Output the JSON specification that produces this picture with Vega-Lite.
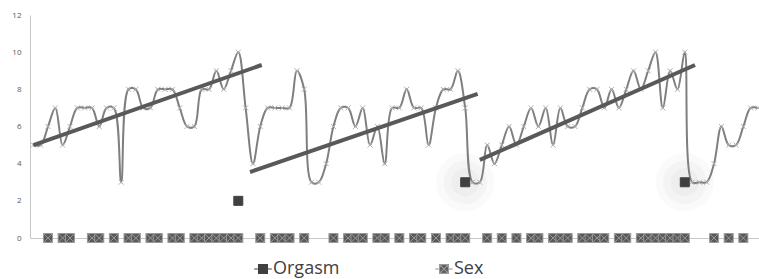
{
  "$schema": "https://vega.github.io/schema/vega-lite/v6.json",
  "width": 729,
  "height": 223,
  "autosize": "none",
  "padding": {"left": 30, "top": 15, "right": 0, "bottom": 41},
  "background": "white",
  "datasets": {
    "days": [
      {"day":0,"Rating":5},{"day":1,"Rating":5},{"day":2,"Rating":6,"Sex":0},{"day":3,"Rating":7},
      {"day":4,"Rating":5,"Sex":0},{"day":5,"Rating":6,"Sex":0},{"day":6,"Rating":7},{"day":7,"Rating":7},
      {"day":8,"Rating":7,"Sex":0},{"day":9,"Rating":6,"Sex":0},{"day":10,"Rating":7},{"day":11,"Rating":7,"Sex":0},
      {"day":12,"Rating":3},{"day":13,"Rating":8,"Sex":0},{"day":14,"Rating":8,"Sex":0},{"day":15,"Rating":7},
      {"day":16,"Rating":7,"Sex":0},{"day":17,"Rating":8,"Sex":0},{"day":18,"Rating":8},{"day":19,"Rating":8,"Sex":0},
      {"day":20,"Rating":7,"Sex":0},{"day":21,"Rating":6},{"day":22,"Rating":6,"Sex":0},{"day":23,"Rating":8,"Sex":0},
      {"day":24,"Rating":8,"Sex":0},{"day":25,"Rating":9,"Sex":0},{"day":26,"Rating":8,"Sex":0},{"day":27,"Rating":9,"Sex":0},
      {"day":28,"Rating":10,"Sex":0,"Orgasm":2},{"day":29,"Rating":7},{"day":30,"Rating":4},{"day":31,"Rating":6,"Sex":0},
      {"day":32,"Rating":7},{"day":33,"Rating":7,"Sex":0},{"day":34,"Rating":7,"Sex":0},{"day":35,"Rating":7,"Sex":0},
      {"day":36,"Rating":9},{"day":37,"Rating":8,"Sex":0},{"day":38,"Rating":3},{"day":39,"Rating":3},
      {"day":40,"Rating":4},{"day":41,"Rating":6,"Sex":0},{"day":42,"Rating":7},{"day":43,"Rating":7,"Sex":0},
      {"day":44,"Rating":6,"Sex":0},{"day":45,"Rating":7,"Sex":0},{"day":46,"Rating":5},{"day":47,"Rating":6,"Sex":0},
      {"day":48,"Rating":4,"Sex":0},{"day":49,"Rating":7},{"day":50,"Rating":7,"Sex":0},{"day":51,"Rating":8},
      {"day":52,"Rating":7,"Sex":0},{"day":53,"Rating":7,"Sex":0},{"day":54,"Rating":5},{"day":55,"Rating":7,"Sex":0},
      {"day":56,"Rating":8},{"day":57,"Rating":8,"Sex":0},{"day":58,"Rating":9,"Sex":0},{"day":59,"Rating":7,"Sex":0,"Orgasm":3},
      {"day":60,"Rating":3},{"day":61,"Rating":3},{"day":62,"Rating":5,"Sex":0},{"day":63,"Rating":4},
      {"day":64,"Rating":5,"Sex":0},{"day":65,"Rating":6},{"day":66,"Rating":5,"Sex":0},{"day":67,"Rating":6},
      {"day":68,"Rating":7,"Sex":0},{"day":69,"Rating":6,"Sex":0},{"day":70,"Rating":7},{"day":71,"Rating":5,"Sex":0},
      {"day":72,"Rating":7,"Sex":0},{"day":73,"Rating":6,"Sex":0},{"day":74,"Rating":6},{"day":75,"Rating":7,"Sex":0},
      {"day":76,"Rating":8,"Sex":0},{"day":77,"Rating":8,"Sex":0},{"day":78,"Rating":7,"Sex":0},{"day":79,"Rating":8},
      {"day":80,"Rating":7,"Sex":0},{"day":81,"Rating":8,"Sex":0},{"day":82,"Rating":9},{"day":83,"Rating":8,"Sex":0},
      {"day":84,"Rating":9,"Sex":0},{"day":85,"Rating":10,"Sex":0},{"day":86,"Rating":7,"Sex":0},{"day":87,"Rating":9,"Sex":0},
      {"day":88,"Rating":8,"Sex":0},{"day":89,"Rating":10,"Sex":0,"Orgasm":3},{"day":90,"Rating":3},{"day":91,"Rating":3},
      {"day":92,"Rating":3},{"day":93,"Rating":4,"Sex":0},{"day":94,"Rating":6},{"day":95,"Rating":5,"Sex":0},
      {"day":96,"Rating":5},{"day":97,"Rating":6,"Sex":0},{"day":98,"Rating":7},{"day":99,"Rating":7}
    ],
    "trends": [
      {"start": 0, "end": 31.2, "from": 5.0, "to": 9.31},
      {"start": 29.6, "end": 60.7, "from": 3.55, "to": 7.75},
      {"start": 61.0, "end": 90.4, "from": 4.2, "to": 9.31}
    ]
  },
  "layer": [
    {
      "data": {"name": "days"},
      "transform": [{"filter": "datum.Orgasm >= 3"}],
      "mark": {"type": "point", "shape": "circle", "filled": true, "color": "#000000", "opacity": 0.018, "size": 3400},
      "encoding": {
        "x": {"field": "day", "type": "quantitative", "scale": {"domain": [-0.46, 99.14], "nice": false, "zero": false}, "axis": {"title": null}},
        "y": {"field": "Orgasm", "type": "quantitative", "scale": {"domain": [0, 12], "nice": false}, "axis": {"title": null}}
      }
    },
    {
      "data": {"name": "days"},
      "transform": [{"filter": "datum.Orgasm >= 3"}],
      "mark": {"type": "point", "shape": "circle", "filled": true, "color": "#000000", "opacity": 0.022, "size": 1900},
      "encoding": {
        "x": {"field": "day", "type": "quantitative", "axis": {"title": null}},
        "y": {"field": "Orgasm", "type": "quantitative", "axis": {"title": null}}
      }
    },
    {
      "data": {"name": "days"},
      "transform": [{"filter": "datum.Orgasm >= 3"}],
      "mark": {"type": "point", "shape": "circle", "filled": true, "color": "#000000", "opacity": 0.025, "size": 800},
      "encoding": {
        "x": {"field": "day", "type": "quantitative", "axis": {"title": null}},
        "y": {"field": "Orgasm", "type": "quantitative", "axis": {"title": null}}
      }
    },
    {
      "data": {"name": "days"},
      "transform": [{"filter": "isValid(datum.Sex)"}],
      "mark": {"type": "point", "shape": "M-1,-1H1V1H-1ZM-1,-1L1,1M1,-1L-1,1", "filled": true, "fill": "#595959", "stroke": "#9a9a9a", "strokeWidth": 1, "size": 81, "opacity": 1},
      "encoding": {
        "x": {"field": "day", "type": "quantitative", "axis": {"title": null}},
        "y": {"field": "Sex", "type": "quantitative", "axis": {"title": null}}
      }
    },
    {
      "data": {"name": "days"},
      "transform": [{"filter": "datum.day < 0"}],
      "mark": {"type": "point", "filled": true, "strokeWidth": 1, "size": 81, "opacity": 1},
      "encoding": {
        "x": {"field": "day", "type": "quantitative", "axis": {"title": null}},
        "y": {"field": "Sex", "type": "quantitative", "axis": {"title": null}},
        "fill": {
          "datum": "Sex",
          "scale": {"domain": ["Orgasm", "Sex"], "range": ["#404040", "#595959"]},
          "legend": {
            "title": null, "orient": "none", "legendX": 224, "legendY": 245,
            "direction": "horizontal", "columns": 2, "columnPadding": 92, "padding": 0,
            "labelFont": "Open Sans", "labelFontSize": 18, "labelColor": "#404040", "labelOffset": 1,
            "symbolSize": 78, "symbolStrokeWidth": 1.2
          }
        },
        "stroke": {
          "datum": "Sex",
          "scale": {"domain": ["Orgasm", "Sex"], "range": ["#404040", "#9a9a9a"]},
          "legend": {
            "title": null, "orient": "none", "legendX": 224, "legendY": 245,
            "direction": "horizontal", "columns": 2, "columnPadding": 92, "padding": 0,
            "labelFont": "Open Sans", "labelFontSize": 18, "labelColor": "#404040", "labelOffset": 1,
            "symbolSize": 78, "symbolStrokeWidth": 1.2
          }
        },
        "shape": {
          "datum": "Sex",
          "scale": {"domain": ["Orgasm", "Sex"], "range": ["M-2,0H-1M1,0H2M-1,-1H1V1H-1Z", "M-2,0H-1M1,0H2M-1,-1H1V1H-1ZM-1,-1L1,1M1,-1L-1,1"]},
          "legend": {
            "title": null, "orient": "none", "legendX": 224, "legendY": 245,
            "direction": "horizontal", "columns": 2, "columnPadding": 92, "padding": 0,
            "labelFont": "Open Sans", "labelFontSize": 18, "labelColor": "#404040", "labelOffset": 1,
            "symbolSize": 78, "symbolStrokeWidth": 1.2
          }
        }
      }
    },
    {
      "data": {"name": "days"},
      "mark": {"type": "line", "interpolate": "catmull-rom", "stroke": "#7f7f7f", "strokeWidth": 2},
      "encoding": {
        "x": {"field": "day", "type": "quantitative", "axis": {"title": null}},
        "y": {"field": "Rating", "type": "quantitative", "axis": {"title": null}}
      }
    },
    {
      "data": {"name": "days"},
      "mark": {"type": "point", "shape": "M-1,-1L1,1M1,-1L-1,1", "filled": false, "stroke": "#b0b0b0", "strokeWidth": 1, "size": 25, "opacity": 1},
      "encoding": {
        "x": {"field": "day", "type": "quantitative", "axis": {"title": null}},
        "y": {"field": "Rating", "type": "quantitative", "axis": {"title": null}}
      }
    },
    {
      "data": {"name": "trends"},
      "mark": {"type": "rule", "stroke": "#595959", "strokeWidth": 4, "strokeCap": "butt"},
      "encoding": {
        "x": {"field": "start", "type": "quantitative", "axis": {"title": null}},
        "x2": {"field": "end"},
        "y": {"field": "from", "type": "quantitative", "axis": {"title": null}},
        "y2": {"field": "to"}
      }
    },
    {
      "data": {"name": "days"},
      "transform": [{"filter": "isValid(datum.Orgasm)"}],
      "mark": {"type": "point", "shape": "M-1,-1H1V1H-1Z", "filled": true, "fill": "#404040", "stroke": "#404040", "strokeWidth": 1, "size": 81, "opacity": 1},
      "encoding": {
        "x": {"field": "day", "type": "quantitative", "axis": {"title": null}},
        "y": {"field": "Orgasm", "type": "quantitative", "axis": {"title": null}}
      }
    }
  ],
  "config": {
    "view": {"stroke": null},
    "axis": {"grid": false, "domainColor": "#c8c8c8", "domainWidth": 1, "labelFont": "Open Sans", "labelFontSize": 8, "labelColor": "#595959"},
    "axisX": {"labels": false, "ticks": false},
    "axisY": {"ticks": false, "labelPadding": 9, "tickCount": 7}
  }
}
